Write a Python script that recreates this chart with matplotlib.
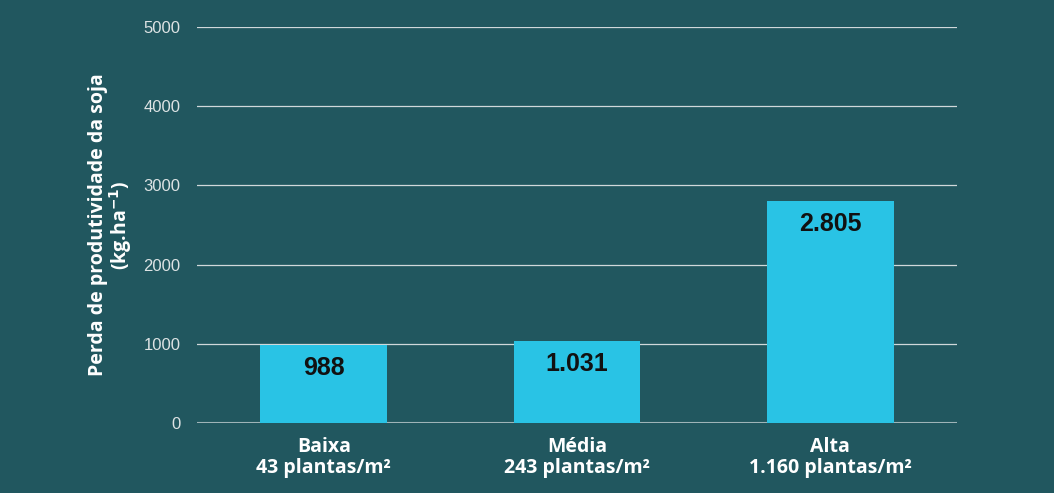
import matplotlib
matplotlib.use("Agg")
import matplotlib.pyplot as plt

categories = ["Baixa\n43 plantas/m²", "Média\n243 plantas/m²", "Alta\n1.160 plantas/m²"]
values = [988, 1031, 2805]
value_labels = ["988", "1.031", "2.805"]
yticks = [0, 1000, 2000, 3000, 4000, 5000]

bg = "#21575f"
bar_color = "#29c3e5"

fig = plt.figure(figsize=(10.54, 4.93), dpi=100, facecolor=bg)
ax = fig.add_axes([0.187, 0.142, 0.721, 0.803], facecolor=bg)

x = list(range(len(categories)))
ax.bar(x, values, width=0.5, color=bar_color, zorder=3)
ax.set_xlim(-0.5, 2.5)
ax.set_ylim(0, 5000)
ax.set_yticks(yticks)
ax.set_yticklabels([str(t) for t in yticks], color="#dde3e4", fontsize=12, family="Liberation Sans")
ax.yaxis.grid(True, color="#d0d8da", linewidth=0.9, zorder=1)
ax.set_axisbelow(True)
for s in ax.spines.values():
    s.set_visible(False)
ax.axhline(0, color="#9fb4b8", linewidth=1.5, zorder=2)
ax.tick_params(axis="y", length=0, pad=12)
ax.tick_params(axis="x", length=0, pad=10)
ax.set_xticks(x)
ax.set_xticklabels(categories, color="white", fontsize=14, fontweight="bold",
                   family="Open Sans", linespacing=1.05)

for xi, v, lab in zip(x, values, value_labels):
    ax.annotate(lab, (xi, v), xytext=(0, -16.5), textcoords="offset points",
                ha="center", va="center", fontsize=18, fontweight="bold",
                color="#111111", family="Liberation Sans", zorder=4)

ax.set_ylabel("Perda de produtividade da soja\n(kg.ha$^{\\mathbf{-1}}$)", color="white",
              fontsize=14, fontweight="bold", family="Open Sans", linespacing=0.95, labelpad=7)

fig.savefig("out.png", dpi=100, facecolor=bg)
